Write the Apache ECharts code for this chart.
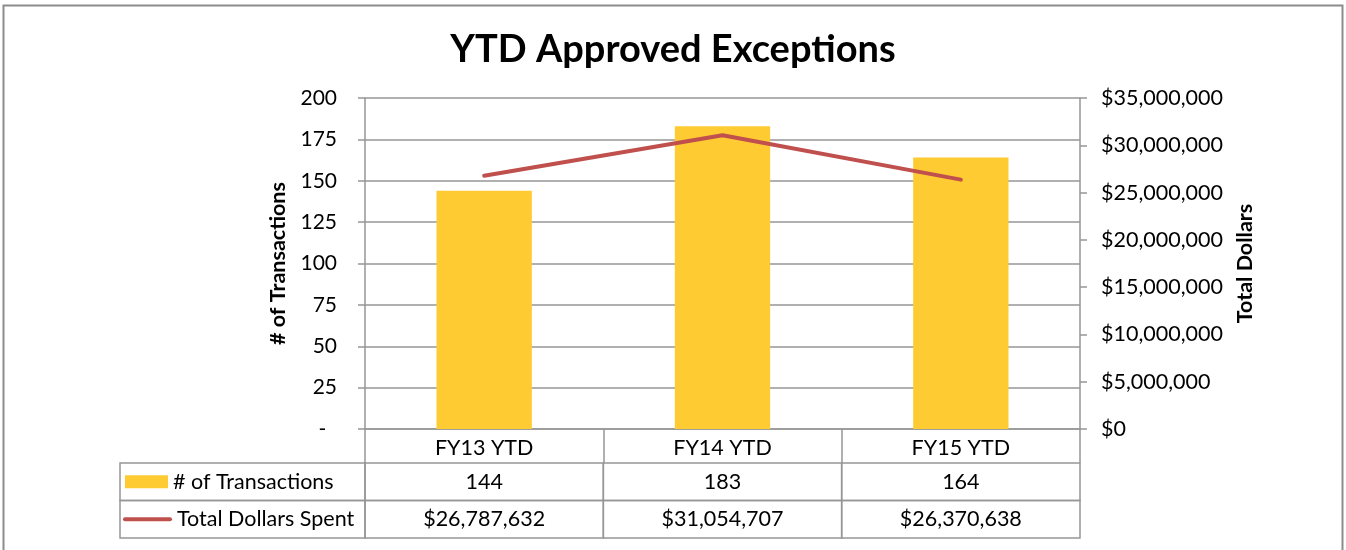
<!DOCTYPE html>
<html>
<head>
<meta charset="utf-8">
<script src="https://cdn.jsdelivr.net/npm/echarts@6/dist/echarts.min.js"></script>
<style>
  html, body { margin: 0; padding: 0; background: #fff; }
  #main { width: 1346px; height: 550px; }
</style>
</head>
<body>
<div id="main"></div>
<script>
// données du graphique
const categories = ['FY13 YTD', 'FY14 YTD', 'FY15 YTD'];
const transactions = [144, 183, 164];
const totalDollars = [26787632, 31054707, 26370638];
const rowNames = ['# of Transactions', 'Total Dollars Spent'];

const FONT = 'Lato';
const BAR_COLOR = '#FFCB32';
const LINE_COLOR = '#C0504D';
const GRID_COLOR = '#969696';
const LEGEND_W = 245;

const money = v => '$' + v.toLocaleString('en-US');

// cellules du tableau de données (c = -1 : colonne légende)
const tableCells = [];
rowNames.forEach((name, r) => {
  tableCells.push({ c: -1, r: r, text: name });
  categories.forEach((cat, c) => {
    tableCells.push({ c: c, r: r, text: r === 0 ? String(transactions[c]) : money(totalDollars[c]) });
  });
});

const chart = echarts.init(document.getElementById('main'));

const option = {
  animation: false,
  title: {
    text: 'YTD Approved Exceptions',
    left: 'center',
    top: 26,
    textStyle: { fontFamily: FONT, fontSize: 38, fontWeight: 'bold', color: '#000' }
  },
  graphic: [{
    type: 'rect',
    shape: { x: 3.5, y: 5.5, width: 1339, height: 570 },
    style: { fill: 'none', stroke: '#8c8c8c', lineWidth: 2 },
    silent: true
  }],
  grid: [
    { left: 365, right: 266, top: 98, bottom: 121 },
    { left: 365, right: 266, top: 463, bottom: 12 }
  ],
  xAxis: [
    {
      type: 'category',
      gridIndex: 0,
      data: categories,
      axisLine: { lineStyle: { color: GRID_COLOR, width: 1.5 } },
      axisTick: { show: true, length: 34, lineStyle: { color: GRID_COLOR, width: 1.5 } },
      axisLabel: { margin: 8, color: '#000', fontFamily: FONT, fontSize: 21.5 }
    },
    {
      type: 'category',
      gridIndex: 1,
      data: categories,
      show: false
    }
  ],
  yAxis: [
    {
      type: 'value',
      gridIndex: 0,
      min: 0,
      max: 200,
      interval: 25,
      name: '# of Transactions',
      nameLocation: 'middle',
      nameGap: 76,
      nameTextStyle: { fontFamily: FONT, fontSize: 21.5, fontWeight: 'bold', color: '#000' },
      axisLine: { show: true, lineStyle: { color: GRID_COLOR, width: 1.5 } },
      axisTick: { show: true, length: 7, lineStyle: { color: GRID_COLOR, width: 1.5 } },
      axisLabel: {
        margin: 28, color: '#000', fontFamily: FONT, fontSize: 21,
        formatter: v => v === 0 ? '-  ' : String(v)
      },
      splitLine: { lineStyle: { color: GRID_COLOR, width: 1.5 } }
    },
    {
      type: 'value',
      gridIndex: 0,
      position: 'right',
      min: 0,
      max: 35000000,
      interval: 5000000,
      name: 'Total Dollars',
      nameLocation: 'middle',
      nameRotate: 90,
      nameGap: 154,
      nameTextStyle: { fontFamily: FONT, fontSize: 21.5, fontWeight: 'bold', color: '#000' },
      axisLine: { show: true, lineStyle: { color: GRID_COLOR, width: 1.5 } },
      axisTick: { show: true, length: 7, lineStyle: { color: GRID_COLOR, width: 1.5 } },
      axisLabel: { margin: 21, color: '#000', fontFamily: FONT, fontSize: 21.5, formatter: money },
      splitLine: { show: false }
    },
    {
      type: 'category',
      gridIndex: 1,
      data: rowNames,
      inverse: true,
      show: false
    }
  ],
  series: [
    {
      name: '# of Transactions',
      type: 'bar',
      xAxisIndex: 0,
      yAxisIndex: 0,
      data: transactions,
      barWidth: '40%',
      itemStyle: { color: BAR_COLOR }
    },
    {
      name: 'Total Dollars Spent',
      type: 'line',
      xAxisIndex: 0,
      yAxisIndex: 1,
      data: totalDollars,
      showSymbol: false,
      symbol: 'none',
      lineStyle: { color: LINE_COLOR, width: 4, cap: 'round' },
      itemStyle: { color: LINE_COLOR }
    },
    {
      // tableau de données sous le graphique
      name: 'table',
      type: 'custom',
      xAxisIndex: 1,
      yAxisIndex: 2,
      clip: false,
      silent: true,
      data: tableCells.map(d => [Math.max(d.c, 0), d.r]),
      renderItem: function (params, api) {
        const cell = tableCells[params.dataIndex];
        const size = api.size([1, 1]);
        const center = api.coord([api.value(0), api.value(1)]);
        const y0 = center[1] - size[1] / 2;
        const textStyle = { fontFamily: FONT, fontSize: 21.5, fill: '#000' };
        if (cell.c >= 0) {
          const x0 = center[0] - size[0] / 2;
          return {
            type: 'group',
            children: [
              { type: 'rect', shape: { x: x0, y: y0, width: size[0], height: size[1] },
                style: { fill: 'none', stroke: GRID_COLOR, lineWidth: 1.5 } },
              { type: 'text', x: center[0], y: center[1],
                style: Object.assign({ text: cell.text, align: 'center', verticalAlign: 'middle' }, textStyle) }
            ]
          };
        }
        // colonne légende
        const right = center[0] - size[0] / 2;
        const left = right - LEGEND_W;
        const symbol = cell.r === 0
          ? { type: 'rect', shape: { x: left + 5, y: center[1] - 6.5, width: 43, height: 13 },
              style: { fill: BAR_COLOR } }
          : { type: 'line', shape: { x1: left + 5, y1: center[1], x2: left + 50, y2: center[1] },
              style: { stroke: LINE_COLOR, lineWidth: 4, lineCap: 'round' } };
        return {
          type: 'group',
          children: [
            { type: 'rect', shape: { x: left, y: y0, width: LEGEND_W, height: size[1] },
              style: { fill: 'none', stroke: GRID_COLOR, lineWidth: 1.5 } },
            symbol,
            { type: 'text', x: left + (cell.r === 0 ? 53 : 57), y: center[1],
              style: Object.assign({ text: cell.text, align: 'left', verticalAlign: 'middle' }, textStyle) }
          ]
        };
      }
    }
  ]
};

chart.setOption(option);
</script>
</body>
</html>
